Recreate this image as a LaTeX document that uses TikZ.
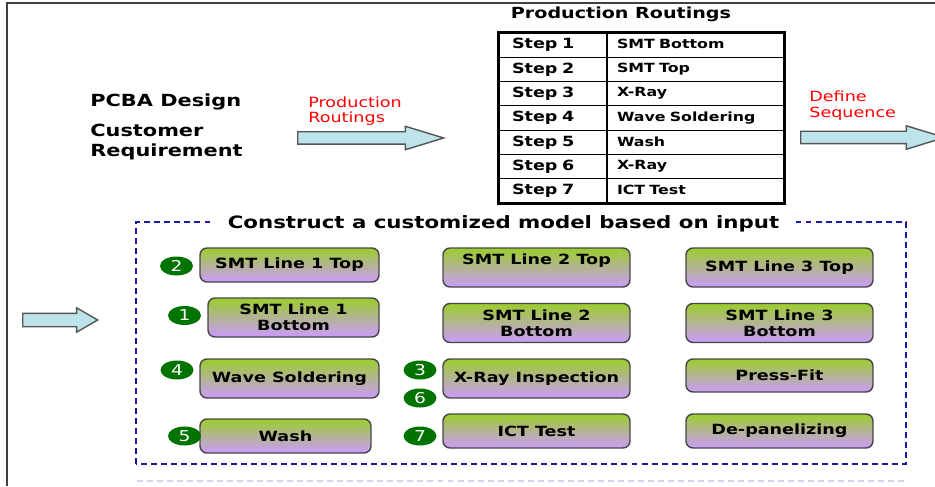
\documentclass[tikz,border=0pt]{standalone}
\usepackage{fontspec}
\setmainfont{DejaVu Sans}[FakeStretch=1.25]
\usepackage{tikz}
\usetikzlibrary{positioning, arrows.meta, shapes.geometric, shapes.arrows}
\definecolor{stagetop}{RGB}{155,205,45}
\definecolor{stagebot}{RGB}{204,155,252}
\definecolor{stageline}{RGB}{70,70,70}
\definecolor{badgegreen}{RGB}{0,115,0}
\definecolor{arrowfill}{RGB}{189,228,234}
\definecolor{arrowline}{RGB}{85,85,85}
\definecolor{modelblue}{RGB}{25,25,165}
\definecolor{faintline}{RGB}{212,212,235}

\begin{document}
\begin{tikzpicture}[
  heading/.style={
    font=\fontsize{9.5}{11.3}\selectfont\bfseries,
    align=left, inner sep=0pt
  },
  %% textos rojos junto a las flechas
  note/.style={
    text=red, font=\fontsize{8}{8.8}\selectfont,
    align=left, anchor=west, inner sep=0pt
  },
  fatarrow/.style={
    single arrow, draw=arrowline, fill=arrowfill, line width=0.8pt,
    single arrow head extend=0.11cm, single arrow tip angle=34,
    inner xsep=0pt, inner ysep=0.11cm, anchor=tail
  },
  %% celdas de la tabla de rutas
  cellstep/.style={
    rectangle, draw, line width=0.6pt,
    font=\fontsize{8}{9}\selectfont\bfseries,
    text width=1.64cm, align=left,
    inner xsep=0.26cm, inner ysep=0pt, minimum height=0.486cm
  },
  cellproc/.style={
    rectangle, draw, line width=0.6pt,
    font=\fontsize{7.2}{8.5}\selectfont\bfseries,
    text width=3.14cm, align=left,
    inner xsep=0.2cm, inner ysep=0pt, minimum height=0.486cm
  },
  %% estaciones del modelo
  stage/.style={
    rectangle, rounded corners=4pt,
    draw=stageline, line width=0.8pt,
    top color=stagetop, bottom color=stagebot,
    font=\fontsize{8}{9}\selectfont\bfseries,
    align=center, inner sep=2pt,
    minimum width=3.74cm, minimum height=0.78cm
  },
  badge/.style={
    ellipse, fill=badgegreen, text=white,
    font=\fontsize{8.5}{10}\selectfont,
    inner sep=0pt, minimum width=0.66cm, minimum height=0.38cm
  }
]
\useasboundingbox (0, 0) rectangle (18.7, 9.72);

%% ── Marco ──────────────────────────────────────────────────────────────────
\draw[line width=1pt, draw=black!75] (0.14, 0) -- (0.14, 9.66) -- (18.7, 9.66);

%% ── Entradas ───────────────────────────────────────────────────────────────
\node[heading, anchor=west] (design) at (1.8, 7.68) {PCBA Design};
\node[heading, anchor=west] (req) at (1.8, 6.88) {Customer\\Requirement};

\node[note] (routnote) at (6.16, 7.5) {Production\\Routings};
\node[fatarrow, minimum height=2.92cm] (arrowA) at (5.94, 6.96) {};

%% ── Tabla de rutas ─────────────────────────────────────────────────────────
\node[heading, font=\fontsize{8.7}{10}\selectfont\bfseries] (routtitle)
  at (12.42, 9.44) {Production Routings};

\foreach \i/\proc in {1/SMT Bottom, 2/SMT Top, 3/X-Ray, 4/Wave Soldering,
                      5/Wash, 6/X-Ray, 7/ICT Test} {
  \node[cellstep] (step\i) at (11.06, {9.06-0.486*(\i-0.5)}) {Step \i};
  \node[cellproc] (proc\i) at (13.91, {9.06-0.486*(\i-0.5)})
    {\raisebox{1pt}{\proc}};
}
\draw[line width=1.3pt] (step1.north west) rectangle (proc7.south east);

\node[note] (seqnote) at (16.18, 7.61) {Define\\Sequence};
\node[fatarrow, minimum height=2.88cm] (arrowB) at (16.0, 6.97) {};

%% ── Modelo ─────────────────────────────────────────────────────────────────
\node[fatarrow, minimum height=1.5cm, inner ysep=0.12cm,
      single arrow tip angle=60] (arrowC) at (0.44, 3.32) {};

\draw[modelblue, line width=0.85pt, dash pattern=on 3.4pt off 2.3pt]
  (2.72, 0.44) rectangle (18.12, 5.28);
\node[heading, font=\fontsize{9.7}{11}\selectfont\bfseries,
      fill=white, inner xsep=0.3cm, inner ysep=1pt] (modeltitle)
  at (10.07, 5.24) {Construct a customized model based on input};

\draw[faintline, line width=0.8pt, dash pattern=on 3.4pt off 2.3pt]
  (2.74, 0.1) -- (18.12, 0.1);

%% Columna 1
\node[stage, minimum width=3.58cm, minimum height=0.68cm] (l1top)
  at (5.79, 4.42) {SMT Line 1 Top};
\node[stage, minimum width=3.42cm] (l1bot)
  at (5.87, 3.37) {SMT Line 1\\Bottom};
\node[stage, minimum width=3.58cm] (wave)
  at (5.79, 2.15) {Wave Soldering};
\node[stage, minimum width=3.42cm, minimum height=0.68cm] (wash)
  at (5.71, 1.0) {Wash};

%% Columna 2
\node[stage] (l2top)  at (10.73, 4.37) {SMT Line 2 Top\\[0pt]};
\node[stage] (l2bot)  at (10.73, 3.26) {SMT Line 2\\Bottom};
\node[stage] (xray)   at (10.73, 2.15) {X-Ray Inspection};
\node[stage, minimum height=0.68cm] (ict) at (10.73, 1.10) {ICT Test};

%% Columna 3
\node[stage] (l3top)  at (15.59, 4.37) {SMT Line 3 Top};
\node[stage] (l3bot)  at (15.59, 3.26) {SMT Line 3\\Bottom};
\node[stage, minimum height=0.66cm] (press) at (15.59, 2.21) {Press-Fit};
\node[stage, minimum height=0.68cm] (depanel) at (15.59, 1.10) {De-panelizing};

%% Orden de la secuencia
\node[badge] (seq2) at (3.53, 4.40) {2};
\node[badge] (seq1) at (3.69, 3.41) {1};
\node[badge] (seq4) at (3.54, 2.32) {4};
\node[badge] (seq5) at (3.69, 1.00) {5};
\node[badge] (seq3) at (8.40, 2.32) {3};
\node[badge] (seq6) at (8.40, 1.76) {6};
\node[badge] (seq7) at (8.40, 1.00) {7};

\end{tikzpicture}
\end{document}
